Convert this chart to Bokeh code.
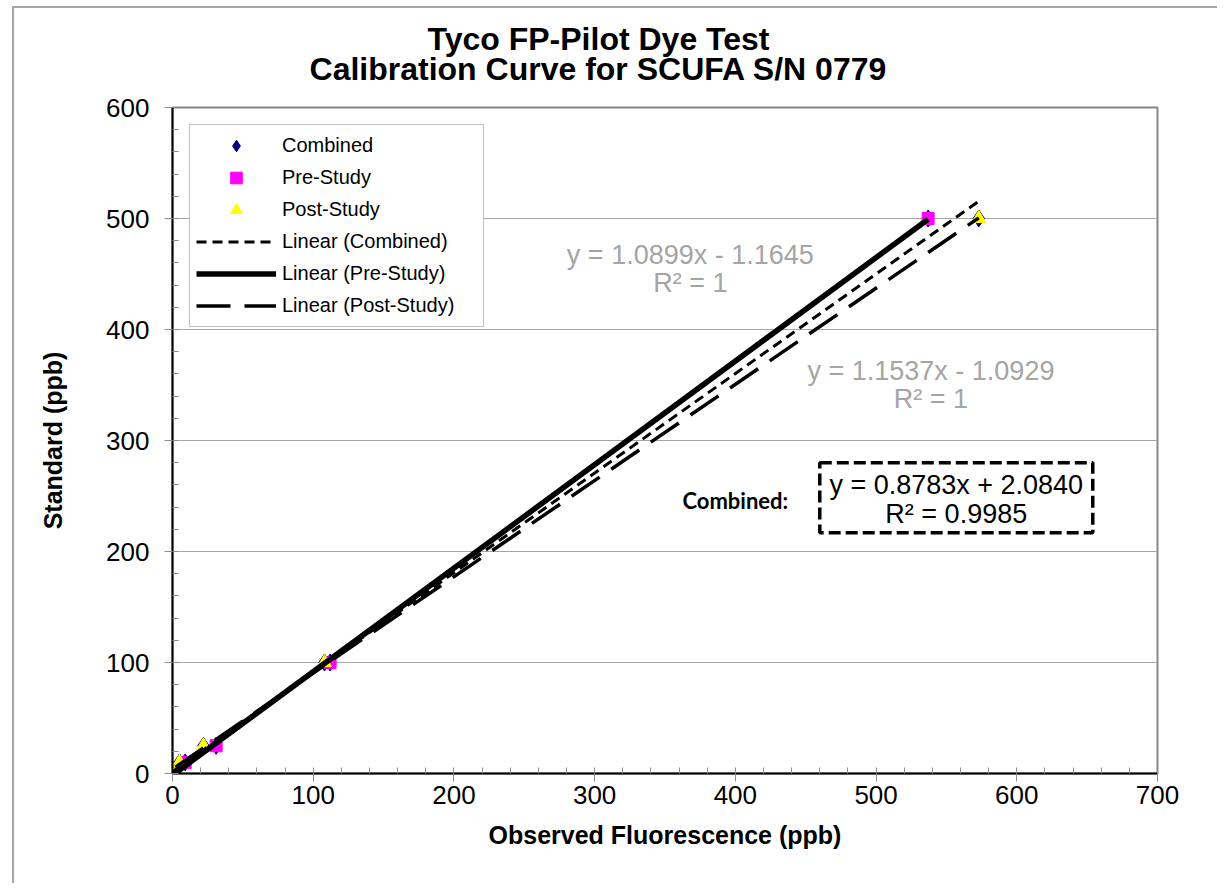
import numpy as np
from bokeh.plotting import figure
from bokeh.layouts import column
from bokeh.models import (Legend, LegendItem, Label, BoxAnnotation,
                          FixedTicker, Range1d)
from bokeh.embed import file_html
from bokeh.resources import INLINE

# ---- data ----
standard = [0, 10, 25, 100, 500]
pre_obs = [0, 9, 31, 112, 537]
post_obs = [2, 5, 22, 108, 573]
comb_obs = pre_obs + post_obs
comb_std = standard + standard

x_ticks = [0, 100, 200, 300, 400, 500, 600, 700]
y_ticks = [0, 100, 200, 300, 400, 500, 600]
x_minor = list(range(0, 701, 20))
y_minor = list(range(0, 601, 20))

title_lines = ["Tyco FP-Pilot Dye Test", "Calibration Curve for SCUFA S/N 0779"]
eq_a = ["y = 1.0899x - 1.1645", "R\u00b2 = 1"]
eq_b = ["y = 1.1537x - 1.0929", "R\u00b2 = 1"]
eq_comb = ["y = 0.8783x + 2.0840", "R\u00b2 = 0.9985"]
comb_tag = "Combined:"

FONT = "Liberation Sans"
FW = 985   # frame width shared by both figures
TH = 80    # height of the title strip
LB, RB = 158, 60

# ---- title strip (a bare figure used only to hold the two title lines) ----
tfig = figure(frame_width=FW, frame_height=TH,
              min_border_left=LB, min_border_right=RB,
              min_border_top=0, min_border_bottom=0,
              x_range=Range1d(0, FW), y_range=Range1d(0, TH),
              x_axis_location=None, y_axis_location=None,
              output_backend="svg", toolbar_location=None, title=None)
tfig.xgrid.visible = False
tfig.ygrid.visible = False
tfig.outline_line_color = None
title_style = dict(text_font=FONT, text_font_size="32px", text_font_style="bold",
                   text_color="black", text_align="center", text_baseline="middle")
tfig.add_layout(Label(x=426, y=50, text=title_lines[0], **title_style))
tfig.add_layout(Label(x=426, y=20, text=title_lines[1], **title_style))

# ---- main chart ----
p = figure(frame_width=FW, frame_height=666,
           min_border_left=LB, min_border_top=19,
           min_border_right=RB, min_border_bottom=110,
           x_range=Range1d(0, 700), y_range=Range1d(0, 600),
           output_backend="svg", toolbar_location=None, title=None)
p.background_fill_color = "white"
p.border_fill_color = "white"
p.outline_line_color = "#868686"
p.outline_line_width = 2

for ax, tk, mn in ((p.xaxis, x_ticks, x_minor), (p.yaxis, y_ticks, y_minor)):
    ax.ticker = FixedTicker(ticks=tk, minor_ticks=mn)
    ax.axis_line_color = "black"
    ax.axis_line_width = 2
    ax.major_tick_out = 8
    ax.major_tick_in = 0
    ax.major_tick_line_color = "#8c8c8c"
    ax.minor_tick_in = 6
    ax.minor_tick_out = 0
    ax.minor_tick_line_color = "#8c8c8c"
    ax.major_label_text_font = FONT
    ax.major_label_text_font_size = "26px"
    ax.major_label_text_color = "black"
    ax.axis_label_text_font = FONT
    ax.axis_label_text_font_size = "25px"
    ax.axis_label_text_font_style = "bold"
    ax.axis_label_text_color = "black"

p.xaxis.axis_label = "Observed Fluorescence (ppb)"
p.yaxis.axis_label = "Standard (ppb)"
p.yaxis.major_label_standoff = 15
p.xaxis.major_label_standoff = 4
p.yaxis.axis_label_standoff = 36
p.xaxis.axis_label_standoff = 14

p.xgrid.visible = False
p.ygrid.grid_line_color = "#a6a6a6"
p.ygrid.grid_line_width = 1

r_comb = p.scatter(comb_obs, comb_std, marker="diamond", size=17,
                   fill_color="#000080", line_color="#000080")
r_pre = p.scatter(pre_obs, standard, marker="square", size=12,
                  fill_color="#FF00FF", line_color="#FF00FF")
r_post = p.scatter(post_obs, standard, marker="triangle", size=14,
                   fill_color="#FFFF00", line_color="#FFFF00")


def trend(xs, ys):
    m, b = np.polyfit(xs, ys, 1)
    xx = np.array([min(xs), max(xs)], dtype=float)
    return xx, m * xx + b


cx, cy = trend(comb_obs, comb_std)
px_, py_ = trend(pre_obs, standard)
qx, qy = trend(post_obs, standard)

l_comb = p.line(cx, cy, line_color="black", line_width=3, line_dash="10 6")
l_pre = p.line(px_, py_, line_color="black", line_width=5.5)
l_post = p.line(qx, qy, line_color="black", line_width=3.5, line_dash="34 14")

legend = Legend(items=[
    LegendItem(label="Combined", renderers=[r_comb]),
    LegendItem(label="Pre-Study", renderers=[r_pre]),
    LegendItem(label="Post-Study", renderers=[r_post]),
    LegendItem(label="Linear (Combined)", renderers=[l_comb]),
    LegendItem(label="Linear (Pre-Study)", renderers=[l_pre]),
    LegendItem(label="Linear (Post-Study)", renderers=[l_post]),
], location="top_left", margin=17, padding=6, spacing=3,
    glyph_width=80, glyph_height=29, label_height=29, label_width=195,
    label_standoff=6,
    label_text_font=FONT, label_text_font_size="20px", label_text_color="black",
    border_line_color="#808080", border_line_width=1,
    background_fill_color="white", background_fill_alpha=1)
p.add_layout(legend)

GRAY = "#a5a5a5"
eq_style = dict(text_font=FONT, text_font_size="27px",
                text_align="center", text_baseline="middle")
p.add_layout(Label(x=368, y=467, text=eq_a[0], text_color=GRAY, **eq_style))
p.add_layout(Label(x=368, y=442, text=eq_a[1], text_color=GRAY, **eq_style))
p.add_layout(Label(x=539, y=363, text=eq_b[0], text_color=GRAY, **eq_style))
p.add_layout(Label(x=539, y=337, text=eq_b[1], text_color=GRAY, **eq_style))
p.add_layout(Label(x=557, y=260, text=eq_comb[0], text_color="black", **eq_style))
p.add_layout(Label(x=557, y=234, text=eq_comb[1], text_color="black", **eq_style))
p.add_layout(Label(x=400, y=246, text=comb_tag, text_color="black",
                   text_font="Lato", text_font_size="22px",
                   text_font_style="bold", text_align="center",
                   text_baseline="middle"))
p.add_layout(BoxAnnotation(left=460, right=654, bottom=217, top=280,
                           fill_alpha=0, line_color="black", line_alpha=1,
                           line_width=3.5, line_dash="12 5"))

layout = column(tfig, p, spacing=0,
                styles={"border-left": "2px solid #a6a6a6",
                        "border-top": "2px solid #a6a6a6",
                        "margin-left": "12px", "margin-top": "6px"})

open("out.html", "w").write(file_html(layout, INLINE))
